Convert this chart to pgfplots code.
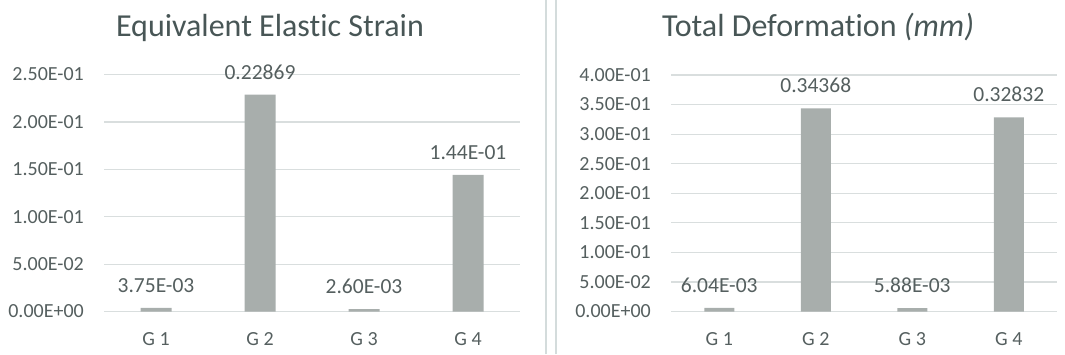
\documentclass[border=0pt]{standalone}
\usepackage{pgfplots}
\pgfplotsset{compat=1.18}
\usepackage{fontspec}
\setmainfont{Carlito}[Ligatures={NoCommon}]
\definecolor{barc}{RGB}{168,174,172}
\definecolor{gridc}{RGB}{217,222,222}
\definecolor{txtc}{RGB}{85,95,95}
\definecolor{titc}{RGB}{72,86,86}
\definecolor{sepc}{RGB}{212,220,220}
\pgfplotsset{
  excel/.style={
    scale only axis,
    anchor=south west,
    xmin=-0.5, xmax=3.5,
    ymin=0,
    xtick={0,1,2,3},
    xticklabels={G 1, G 2, G 3, G 4},
    axis line style={draw=none},
    major tick length=0pt,
    ymajorgrids,
    grid style={gridc, line width=1.2pt},
    ybar,
    bar width=31pt,
    clip=false,
    ticklabel style={text=txtc, font=\fontsize{20}{24}\selectfont},
    xticklabel style={anchor=base, inner sep=0pt, yshift=-34pt},
    yticklabel style={anchor=east, inner sep=0pt, xshift=-20pt},
    nodes near coords,
    point meta=explicit symbolic,
    nodes near coords style={anchor=base, inner sep=0pt, yshift=15.5pt, text=txtc, font=\fontsize{21.5}{24}\selectfont},
  }
}
\begin{document}
\begin{tikzpicture}
\path[use as bounding box] (0pt,0pt) rectangle (1065pt,354pt);
\draw[sepc, line width=1.2pt] (546pt,0pt) -- (546pt,354pt);
\draw[sepc, line width=1.2pt] (556pt,0pt) -- (556pt,354pt);
\node[anchor=base, text=titc, font=\fontsize{32}{36}\selectfont] at (270pt,317pt) {Equivalent Elastic Strain};
\node[anchor=base, text=titc, font=\fontsize{32}{36}\selectfont] at (818pt,317pt) {Total Deformation \textit{(mm)}};
\begin{axis}[excel,
  at={(104pt,42.5pt)},
  width=416pt, height=237pt,
  ymax=0.25,
  ytick={0,0.05,0.1,0.15,0.2,0.25},
  yticklabels={0.00E+00,5.00E-02,1.00E-01,1.50E-01,2.00E-01,2.50E-01},
]
\addplot[fill=barc, draw=none] coordinates {
  (0,0.00375) [3.75E-03]
  (1,0.22869) [0.22869]
  (2,0.0026) [2.60E-03]
  (3,0.144) [1.44E-01]
};
\end{axis}
\begin{axis}[excel,
  at={(671pt,42.5pt)},
  width=386pt, height=236.5pt,
  ymax=0.4,
  bar width=30pt,
  ytick={0,0.05,0.1,0.15,0.2,0.25,0.3,0.35,0.4},
  yticklabels={0.00E+00,5.00E-02,1.00E-01,1.50E-01,2.00E-01,2.50E-01,3.00E-01,3.50E-01,4.00E-01},
]
\addplot[fill=barc, draw=none] coordinates {
  (0,0.00604) [6.04E-03]
  (1,0.34368) [0.34368]
  (2,0.00588) [5.88E-03]
  (3,0.32832) [0.32832]
};
\end{axis}
\end{tikzpicture}
\end{document}
